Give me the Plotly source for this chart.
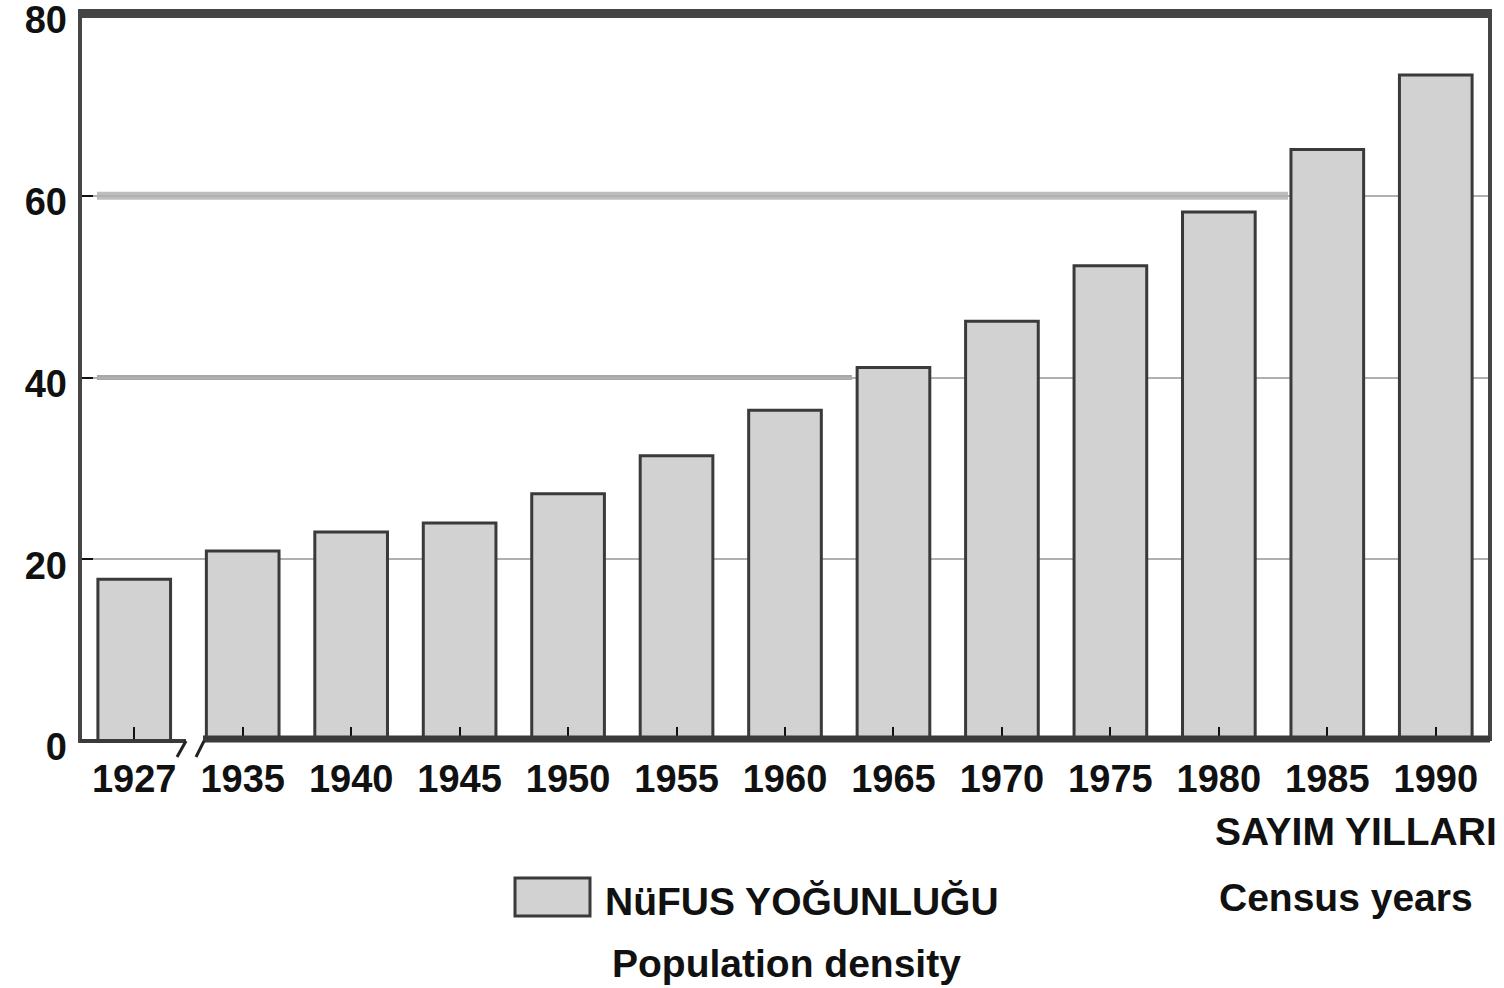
import plotly.graph_objects as go

years = ["1927", "1935", "1940", "1945", "1950", "1955", "1960",
         "1965", "1970", "1975", "1980", "1985", "1990"]
density = [17.8, 20.9, 23.0, 24.0, 27.2, 31.4, 36.4, 41.1, 46.2, 52.3, 58.2, 65.1, 73.3]
y_ticks = [0, 20, 40, 60, 80]

FONT = "Liberation Sans"
DARK = "#3a3a3a"
FILL = "#d2d2d2"

fig = go.Figure()
fig.add_trace(go.Bar(
    x=years, y=density,
    marker=dict(color=FILL, line=dict(color=DARK, width=3)),
    showlegend=False, hoverinfo="x+y",
))

def px_x(p):
    return (p - 80) / 1410.0

def px_y(p):
    return (741 - p) / 727.0

shapes = []
# thick gridline segments (scan artefact look)
shapes.append(dict(type="line", xref="paper", yref="y", x0=px_x(97), x1=px_x(1288), y0=60, y1=60,
                   line=dict(color="#bdbdbd", width=8), layer="below"))
shapes.append(dict(type="line", xref="paper", yref="y", x0=px_x(97), x1=px_x(852), y0=40, y1=40,
                   line=dict(color="#a8a8a8", width=5), layer="below"))
# frame: top, left, right
shapes.append(dict(type="line", xref="paper", yref="paper", x0=0, x1=1, y0=px_y(13.5), y1=px_y(13.5),
                   line=dict(color="#454545", width=9)))
shapes.append(dict(type="line", xref="paper", yref="paper", x0=0, x1=0, y0=px_y(743), y1=px_y(9),
                   line=dict(color="#454545", width=4)))
shapes.append(dict(type="line", xref="paper", yref="paper", x0=1, x1=1, y0=px_y(741), y1=px_y(9),
                   line=dict(color="#454545", width=4)))
# bottom axis with break
shapes.append(dict(type="line", xref="paper", yref="paper", x0=0, x1=px_x(186), y0=px_y(741), y1=px_y(741),
                   line=dict(color="#3a3a3a", width=4)))
shapes.append(dict(type="line", xref="paper", yref="paper", x0=px_x(203), x1=1, y0=px_y(739), y1=px_y(739),
                   line=dict(color="#3a3a3a", width=7)))
shapes.append(dict(type="line", xref="paper", yref="paper", x0=px_x(177), x1=px_x(186), y0=px_y(757), y1=px_y(741),
                   line=dict(color="#222", width=3)))
shapes.append(dict(type="line", xref="paper", yref="paper", x0=px_x(196), x1=px_x(204), y0=px_y(757), y1=px_y(741),
                   line=dict(color="#222", width=3)))
# legend swatch
shapes.append(dict(type="rect", xref="paper", yref="paper", x0=px_x(515), x1=px_x(590), y0=px_y(916), y1=px_y(878),
                   fillcolor=FILL, line=dict(color=DARK, width=3)))

bold = dict(family=FONT, size=38, color="#111", weight="bold")
bold_ann = dict(family=FONT, size=39, color="#111", weight="bold")
annotations = [
    dict(text="SAYIM YILLARI", xref="paper", yref="paper", x=px_x(1499), y=px_y(832),
         xanchor="right", yanchor="middle", showarrow=False, font=bold_ann),
    dict(text="Census years", xref="paper", yref="paper", x=px_x(1346), y=px_y(898),
         xanchor="center", yanchor="middle", showarrow=False, font=bold_ann),
    dict(text="NüFUS YOĞUNLUĞU", xref="paper", yref="paper", x=px_x(603), y=px_y(901),
         xanchor="left", yanchor="middle", showarrow=False, font=bold_ann),
    dict(text="Population density", xref="paper", yref="paper", x=px_x(610), y=px_y(963),
         xanchor="left", yanchor="middle", showarrow=False, font=bold_ann),
]

fig.update_layout(
    width=1504, height=988,
    margin=dict(l=80, r=14, t=14, b=247, autoexpand=False),
    paper_bgcolor="white", plot_bgcolor="white",
    bargap=0.33,
    shapes=shapes, annotations=annotations,
    font=dict(family=FONT),
)
fig.update_xaxes(
    type="category", range=[-0.5, 12.5], automargin=False,
    showline=False, showgrid=False, zeroline=False,
    ticks="inside", ticklen=14, tickwidth=2, tickcolor="#111",
    tickfont=bold, ticklabelstandoff=12,
)
fig.update_yaxes(
    range=[0, 80], tickvals=y_ticks, automargin=False,
    showline=False, zeroline=False,
    showgrid=True, gridcolor="#b0b0b0", gridwidth=2,
    ticks="inside", ticklen=13, tickwidth=2, tickcolor="#111",
    tickfont=bold, ticklabelstandoff=12, ticklabelshift=6,
    ticklabeloverflow="allow",
)

fig.write_html("out.html", config={"displayModeBar": False},
               post_script="document.body.style.margin='0';")
